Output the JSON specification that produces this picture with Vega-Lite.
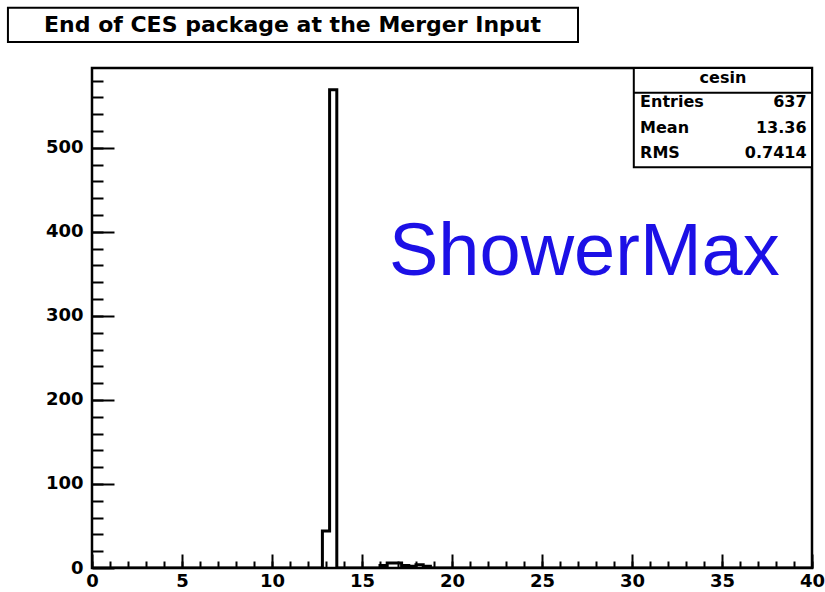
{
  "$schema": "https://vega.github.io/schema/vega-lite/v6.json",
  "width": 720,
  "height": 500,
  "autosize": {"type": "none"},
  "padding": {"left": 92, "top": 68, "right": 13, "bottom": 24},
  "background": "white",
  "data": {"values": [{}]},
  "resolve": {"axis": {"x": "independent", "y": "independent"}},
  "config": {
    "view": {"stroke": "black", "strokeWidth": 2.5},
    "axis": {
      "grid": false,
      "labelFont": "DejaVu Sans",
      "labelFontWeight": "bold",
      "labelFontSize": 18,
      "labelColor": "black",
      "tickColor": "black",
      "domainColor": "black",
      "tickWidth": 2
    }
  },
  "datasets": {
    "hist": [
      {"x": 0, "count": 0},
      {"x": 12.8, "count": 44},
      {"x": 13.2, "count": 569},
      {"x": 13.6, "count": 0},
      {"x": 16.0, "count": 3},
      {"x": 16.4, "count": 6},
      {"x": 16.8, "count": 6},
      {"x": 17.2, "count": 3},
      {"x": 17.6, "count": 2},
      {"x": 18.0, "count": 4},
      {"x": 18.4, "count": 2},
      {"x": 18.8, "count": 0},
      {"x": 40, "count": 0}
    ]
  },
  "layer": [
    {
      "data": {"name": "hist"},
      "mark": {"type": "line", "interpolate": "step-after", "stroke": "black", "strokeWidth": 3, "clip": true},
      "encoding": {
        "x": {
          "field": "x", "type": "quantitative",
          "scale": {"domain": [0, 40], "nice": false, "zero": false},
          "axis": {"title": null, "orient": "bottom", "values": [0, 5, 10, 15, 20, 25, 30, 35, 40], "offset": -14, "tickSize": 14, "labelPadding": 4, "domain": false, "labelBaseline": "top", "labelFlush": false, "labelOverlap": false}
        },
        "y": {
          "field": "count", "type": "quantitative",
          "scale": {"domain": [0, 595], "nice": false, "zero": true},
          "axis": {"title": null, "orient": "left", "values": [0, 100, 200, 300, 400, 500], "offset": -22, "tickSize": 22, "labelPadding": 9, "domain": false, "labelBaseline": "middle", "labelOverlap": false}
        }
      }
    },
    {
      "mark": {"type": "rect", "fill": "white", "stroke": "black", "strokeWidth": 2},
      "encoding": {
        "x": {"datum": 30.1, "type": "quantitative",
          "axis": {"title": null, "orient": "bottom", "values": [0,1,2,3,4,5,6,7,8,9,10,11,12,13,14,15,16,17,18,19,20,21,22,23,24,25,26,27,28,29,30,31,32,33,34,35,36,37,38,39,40], "offset": -7, "tickSize": 7, "labels": false, "domain": false}},
        "x2": {"datum": 40},
        "y": {"datum": 595, "type": "quantitative",
          "axis": {"title": null, "orient": "left", "values": [20,40,60,80,100,120,140,160,180,200,220,240,260,280,300,320,340,360,380,400,420,440,460,480,500,520,540,560,580], "offset": -11, "tickSize": 11, "labels": false, "domain": false}},
        "y2": {"datum": 477}
      }
    },
    {
      "mark": {"type": "rule", "stroke": "black", "strokeWidth": 2},
      "encoding": {
        "x": {"datum": 30.1, "type": "quantitative", "axis": null},
        "x2": {"datum": 40},
        "y": {"datum": 565.5, "type": "quantitative", "axis": null}
      }
    },
    {
      "mark": {"type": "rect", "fill": "white", "stroke": "black", "strokeWidth": 2, "clip": false},
      "encoding": {
        "x": {"datum": -4.67, "type": "quantitative", "axis": null},
        "x2": {"datum": 27.0},
        "y": {"datum": 666.7, "type": "quantitative", "axis": null},
        "y2": {"datum": 626}
      }
    },
    {
      "mark": {"type": "text", "text": "End of CES package at the Merger Input", "font": "DejaVu Sans", "fontWeight": "bold", "fontSize": 22, "align": "center", "baseline": "alphabetic", "color": "black"},
      "encoding": {
        "x": {"datum": 11.14, "type": "quantitative", "axis": null},
        "y": {"datum": 638.1, "type": "quantitative", "axis": null}
      }
    },
    {
      "mark": {"type": "text", "text": "cesin", "font": "DejaVu Sans", "fontWeight": "bold", "fontSize": 16, "align": "center", "baseline": "middle", "color": "black"},
      "encoding": {
        "x": {"datum": 35.05, "type": "quantitative", "axis": null},
        "y": {"datum": 583, "type": "quantitative", "axis": null}
      }
    },
    {
      "mark": {"type": "text", "text": "Entries", "font": "DejaVu Sans", "fontWeight": "bold", "fontSize": 16, "align": "left", "baseline": "middle", "color": "black"},
      "encoding": {
        "x": {"datum": 30.45, "type": "quantitative", "axis": null},
        "y": {"datum": 555, "type": "quantitative", "axis": null}
      }
    },
    {
      "mark": {"type": "text", "text": "637", "font": "DejaVu Sans", "fontWeight": "bold", "fontSize": 16, "align": "right", "baseline": "middle", "color": "black"},
      "encoding": {
        "x": {"datum": 39.7, "type": "quantitative", "axis": null},
        "y": {"datum": 555, "type": "quantitative", "axis": null}
      }
    },
    {
      "mark": {"type": "text", "text": "Mean", "font": "DejaVu Sans", "fontWeight": "bold", "fontSize": 16, "align": "left", "baseline": "middle", "color": "black"},
      "encoding": {
        "x": {"datum": 30.45, "type": "quantitative", "axis": null},
        "y": {"datum": 524, "type": "quantitative", "axis": null}
      }
    },
    {
      "mark": {"type": "text", "text": "13.36", "font": "DejaVu Sans", "fontWeight": "bold", "fontSize": 16, "align": "right", "baseline": "middle", "color": "black"},
      "encoding": {
        "x": {"datum": 39.7, "type": "quantitative", "axis": null},
        "y": {"datum": 524, "type": "quantitative", "axis": null}
      }
    },
    {
      "mark": {"type": "text", "text": "RMS", "font": "DejaVu Sans", "fontWeight": "bold", "fontSize": 16, "align": "left", "baseline": "middle", "color": "black"},
      "encoding": {
        "x": {"datum": 30.45, "type": "quantitative", "axis": null},
        "y": {"datum": 494, "type": "quantitative", "axis": null}
      }
    },
    {
      "mark": {"type": "text", "text": "0.7414", "font": "DejaVu Sans", "fontWeight": "bold", "fontSize": 16, "align": "right", "baseline": "middle", "color": "black"},
      "encoding": {
        "x": {"datum": 39.7, "type": "quantitative", "axis": null},
        "y": {"datum": 494, "type": "quantitative", "axis": null}
      }
    },
    {
      "mark": {"type": "text", "text": "ShowerMax", "font": "Liberation Sans", "fontSize": 74, "align": "left", "baseline": "alphabetic", "color": "#1c10e6"},
      "encoding": {
        "x": {"datum": 16.5, "type": "quantitative", "axis": null},
        "y": {"datum": 348.8, "type": "quantitative", "axis": null}
      }
    }
  ]
}
